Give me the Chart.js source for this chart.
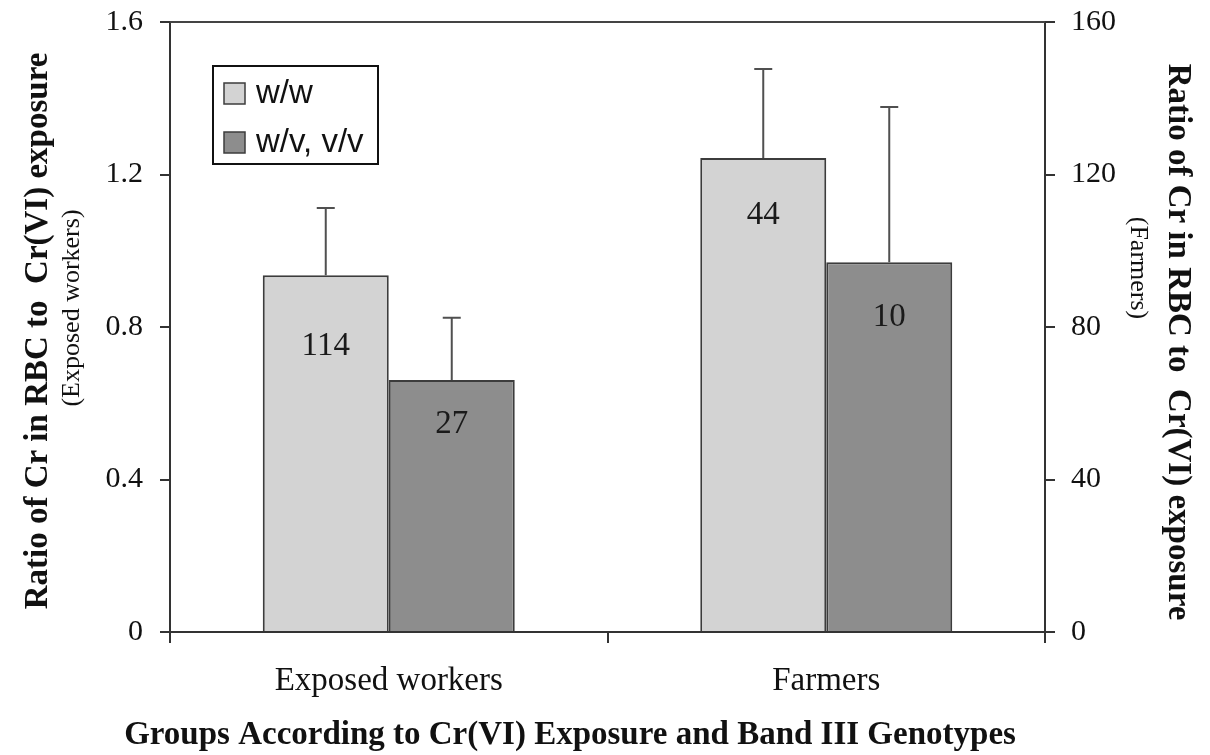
<!DOCTYPE html>
<html>
<head>
<meta charset="utf-8">
<script src="https://cdn.jsdelivr.net/npm/chart.js@4.4.1/dist/chart.umd.min.js"></script>
<style>
  body { margin: 0; background: #fff; }
  #wrap { width: 1210px; height: 755px; position: relative; }
</style>
</head>
<body>
<div id="wrap"><canvas id="crChart"></canvas></div>
<script>
// Groups on the x axis
const groups = ['Exposed workers', 'Farmers'];

// Ratio values: workers are read on the left axis, farmers on the right axis
const ratioWW = [0.936, 124.3];
const ratioWV = [0.661, 97.0];

// Upper error bars (same units as the values)
const errWW = [0.176, 23.4];
const errWV = [0.163, 40.7];

// Number of subjects written inside each bar
const countWW = [114, 44];
const countWV = [27, 10];

// Tick labels for both y axes
const leftTicks = ['0', '0.4', '0.8', '1.2', '1.6'];
const rightTicks = ['0', '40', '80', '120', '160'];

// Where the count sits below the top of each bar (px)
const labelDropWW = [71, 57];
const labelDropWV = [44, 55];

const serif = '"Liberation Serif", "Times New Roman", serif';
const sans = '"Liberation Sans", Arial, sans-serif';
const lightFill = '#d3d3d3';
const darkFill = '#8d8d8d';
const edge = '#3c3c3c';

// Each group uses its own axis, so split into four datasets
function makeSet(label, values, errs, counts, drops, idx, axis, fill) {
    const data = groups.map((g, i) => i === idx ? values[i] : null);
    return {
        label: label,
        data: data,
        errors: errs,
        counts: counts,
        drops: drops,
        yAxisID: axis,
        backgroundColor: fill,
        borderColor: edge,
        borderWidth: 2,
        borderSkipped: 'bottom'
    };
}

const datasets = [
    makeSet('w/w', ratioWW, errWW, countWW, labelDropWW, 0, 'y', lightFill),
    makeSet('w/v, v/v', ratioWV, errWV, countWV, labelDropWV, 0, 'y', darkFill),
    makeSet('w/w', ratioWW, errWW, countWW, labelDropWW, 1, 'y2', lightFill),
    makeSet('w/v, v/v', ratioWV, errWV, countWV, labelDropWV, 1, 'y2', darkFill)
];

// Error bars and counts on top of the bars
const barExtras = {
    id: 'barExtras',
    afterDatasetsDraw(chart) {
        const ctx = chart.ctx;
        chart.data.datasets.forEach((ds, i) => {
            const meta = chart.getDatasetMeta(i);
            const scale = chart.scales[ds.yAxisID];
            meta.data.forEach((bar, j) => {
                const v = ds.data[j];
                if (v === null || v === undefined) return;
                const yTop = scale.getPixelForValue(v + ds.errors[j]);
                ctx.save();
                ctx.strokeStyle = '#505050';
                ctx.lineWidth = 2;
                ctx.beginPath();
                ctx.moveTo(bar.x, bar.y);
                ctx.lineTo(bar.x, yTop);
                ctx.moveTo(bar.x - 9, yTop);
                ctx.lineTo(bar.x + 9, yTop);
                ctx.stroke();
                ctx.fillStyle = '#1a1a1a';
                ctx.font = '33px ' + serif;
                ctx.textAlign = 'center';
                ctx.textBaseline = 'middle';
                ctx.fillText(String(ds.counts[j]), bar.x, bar.y + ds.drops[j]);
                ctx.restore();
            });
        });
    }
};

// Frame top line, axis titles and the boxed legend
const decorations = {
    id: 'decorations',
    afterDraw(chart) {
        const ctx = chart.ctx;
        const area = chart.chartArea;
        ctx.save();

        // top border of the plot
        ctx.strokeStyle = '#444';
        ctx.lineWidth = 2;
        ctx.beginPath();
        ctx.moveTo(area.left, area.top);
        ctx.lineTo(area.right, area.top);
        ctx.stroke();

        ctx.fillStyle = '#111';
        ctx.textAlign = 'center';
        ctx.textBaseline = 'middle';

        // left titles
        ctx.save();
        ctx.translate(38, 331);
        ctx.rotate(-Math.PI / 2);
        ctx.font = 'bold 33px ' + serif;
        ctx.fillText('Ratio of Cr in RBC to  Cr(VI) exposure', 0, 0);
        ctx.restore();
        ctx.save();
        ctx.translate(72, 308);
        ctx.rotate(-Math.PI / 2);
        ctx.font = '26px ' + serif;
        ctx.fillText('(Exposed workers)', 0, 0);
        ctx.restore();

        // right titles
        ctx.save();
        ctx.translate(1178, 342);
        ctx.rotate(Math.PI / 2);
        ctx.font = 'bold 33px ' + serif;
        ctx.fillText('Ratio of Cr in RBC to  Cr(VI) exposure', 0, 0);
        ctx.restore();
        ctx.save();
        ctx.translate(1138, 268);
        ctx.rotate(Math.PI / 2);
        ctx.font = '26px ' + serif;
        ctx.fillText('(Farmers)', 0, 0);
        ctx.restore();

        // x title
        ctx.font = 'bold 33px ' + serif;
        ctx.fillText('Groups According to Cr(VI) Exposure and Band III Genotypes', 570, 735);

        // legend box
        ctx.strokeStyle = '#111';
        ctx.lineWidth = 2;
        ctx.strokeRect(213, 66, 165, 98);
        const items = chart.data.datasets.slice(0, 2);
        items.forEach((ds, k) => {
            const y = 83 + k * 49;
            ctx.fillStyle = ds.backgroundColor;
            ctx.fillRect(224, y, 21, 21);
            ctx.strokeStyle = edge;
            ctx.lineWidth = 1.5;
            ctx.strokeRect(224, y, 21, 21);
            ctx.fillStyle = '#111';
            ctx.font = '33px ' + sans;
            ctx.textAlign = 'left';
            ctx.fillText(ds.label, 256, y + 11);
        });
        ctx.restore();
    }
};

// y axes: fixed width and no extra room for the top label
function fitY(width) {
    return s => {
        s.width = width;
        s.paddingTop = 0;
        s.paddingBottom = 0;
    };
}

const ctx = document.getElementById('crChart').getContext('2d');
const crChart = new Chart(ctx, {
    type: 'bar',
    data: {
        labels: groups,
        datasets: datasets
    },
    options: {
        responsive: true,
        maintainAspectRatio: false,
        animation: false,
        skipNull: true,
        categoryPercentage: 0.576,
        barPercentage: 1.0,
        layout: { padding: { top: 22 } },
        plugins: {
            legend: { display: false },
            tooltip: { enabled: false }
        },
        scales: {
            x: {
                offset: true,
                grid: { offset: true, drawOnChartArea: false, tickLength: 11, color: '#333', lineWidth: 2 },
                border: { color: '#333', width: 2 },
                ticks: { font: { family: serif, size: 33, lineHeight: 1 }, color: '#111', padding: 22 },
                afterFit: s => { s.height = 123; }
            },
            y: {
                position: 'left',
                min: 0,
                max: 1.6,
                ticks: {
                    stepSize: 0.4,
                    font: { family: serif, size: 30 },
                    color: '#111',
                    padding: 17,
                    callback: (v, i) => leftTicks[i]
                },
                grid: { drawOnChartArea: false, tickLength: 10, color: '#333', lineWidth: 2 },
                border: { color: '#333', width: 2 },
                afterFit: fitY(170)
            },
            y2: {
                position: 'right',
                min: 0,
                max: 160,
                ticks: {
                    stepSize: 40,
                    font: { family: serif, size: 30 },
                    color: '#111',
                    padding: 16,
                    callback: (v, i) => rightTicks[i]
                },
                grid: { drawOnChartArea: false, tickLength: 10, color: '#333', lineWidth: 2 },
                border: { color: '#333', width: 2 },
                afterFit: fitY(165)
            }
        }
    },
    plugins: [barExtras, decorations]
});
</script>
</body>
</html>
